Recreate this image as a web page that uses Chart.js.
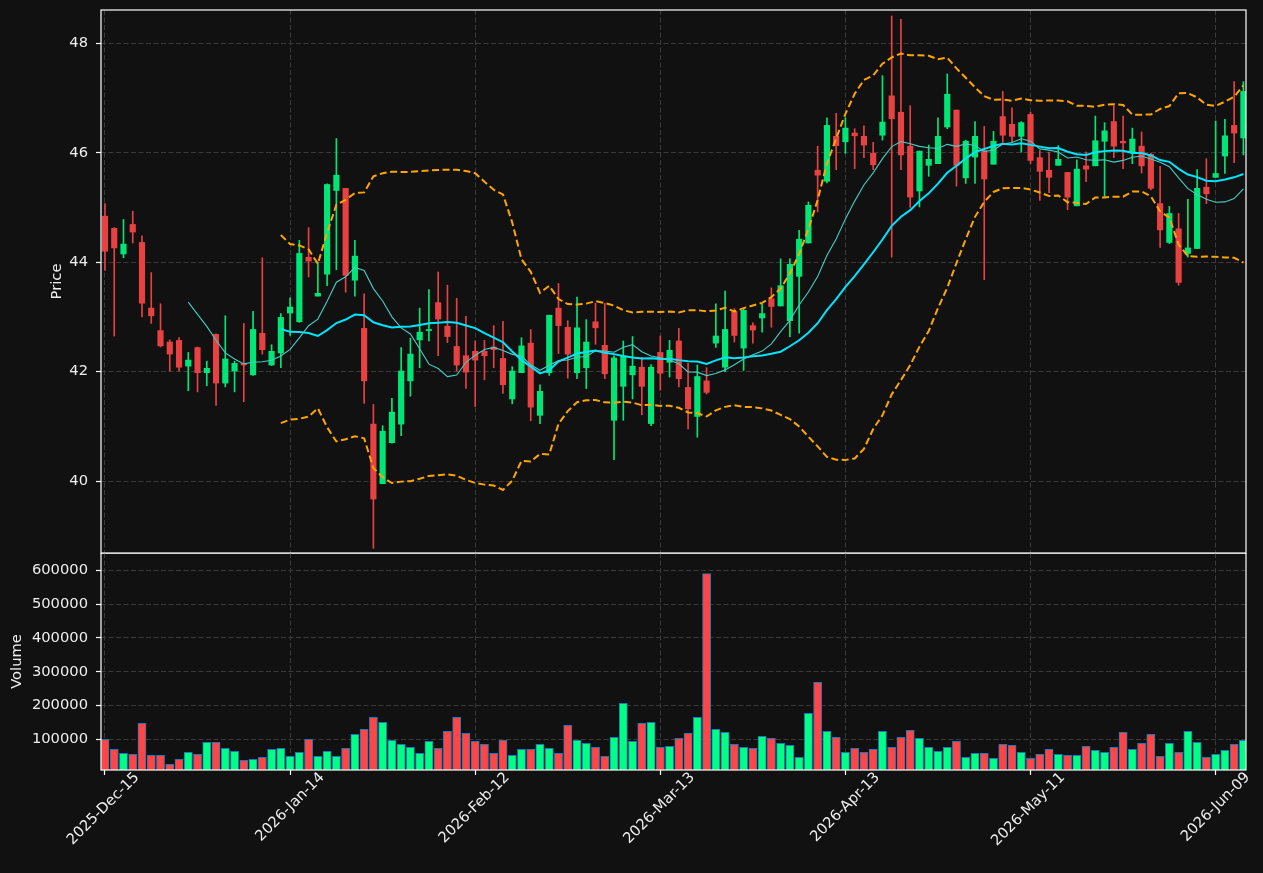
<!DOCTYPE html>
<html><head><meta charset="utf-8">
<script src="https://cdn.jsdelivr.net/npm/chart.js@4.4.1/dist/chart.umd.min.js"></script>
<style>
html,body{margin:0;padding:0;background:#111111;}
body{width:1263px;height:873px;position:relative;overflow:hidden;}
canvas{position:absolute;left:0;}
#price{top:0;}
#vol{top:553px;}
</style></head><body>
<canvas id="price" width="1263" height="554"></canvas>
<canvas id="vol" width="1263" height="320"></canvas>
<script>
// ---------- data ----------
const dates = [
'2025-Dec-15','2025-Dec-16','2025-Dec-17','2025-Dec-18','2025-Dec-19','2025-Dec-22','2025-Dec-23','2025-Dec-24','2025-Dec-26','2025-Dec-29','2025-Dec-30','2025-Dec-31',
'2026-Jan-02','2026-Jan-05','2026-Jan-06','2026-Jan-07','2026-Jan-08','2026-Jan-09','2026-Jan-12','2026-Jan-13','2026-Jan-14','2026-Jan-15','2026-Jan-16','2026-Jan-20','2026-Jan-21','2026-Jan-22','2026-Jan-23','2026-Jan-26','2026-Jan-27','2026-Jan-28','2026-Jan-29','2026-Jan-30',
'2026-Feb-02','2026-Feb-03','2026-Feb-04','2026-Feb-05','2026-Feb-06','2026-Feb-09','2026-Feb-10','2026-Feb-11','2026-Feb-12','2026-Feb-13','2026-Feb-17','2026-Feb-18','2026-Feb-19','2026-Feb-20','2026-Feb-23','2026-Feb-24','2026-Feb-25','2026-Feb-26','2026-Feb-27',
'2026-Mar-02','2026-Mar-03','2026-Mar-04','2026-Mar-05','2026-Mar-06','2026-Mar-09','2026-Mar-10','2026-Mar-11','2026-Mar-12','2026-Mar-13','2026-Mar-16','2026-Mar-17','2026-Mar-18','2026-Mar-19','2026-Mar-20','2026-Mar-23','2026-Mar-24','2026-Mar-25','2026-Mar-26','2026-Mar-27','2026-Mar-30','2026-Mar-31',
'2026-Apr-01','2026-Apr-02','2026-Apr-06','2026-Apr-07','2026-Apr-08','2026-Apr-09','2026-Apr-10','2026-Apr-13','2026-Apr-14','2026-Apr-15','2026-Apr-16','2026-Apr-17','2026-Apr-20','2026-Apr-21','2026-Apr-22','2026-Apr-23','2026-Apr-24','2026-Apr-27','2026-Apr-28','2026-Apr-29','2026-Apr-30',
'2026-May-01','2026-May-04','2026-May-05','2026-May-06','2026-May-07','2026-May-08','2026-May-11','2026-May-12','2026-May-13','2026-May-14','2026-May-15','2026-May-18','2026-May-19','2026-May-20','2026-May-21','2026-May-22','2026-May-26','2026-May-27','2026-May-28','2026-May-29',
'2026-Jun-01','2026-Jun-02','2026-Jun-03','2026-Jun-04','2026-Jun-05','2026-Jun-08','2026-Jun-09','2026-Jun-10','2026-Jun-11','2026-Jun-12'
];
const openP = [44.84,44.62,44.15,44.69,44.36,43.16,42.75,42.54,42.57,42.10,42.44,41.98,42.68,41.79,42.01,42.15,41.94,42.70,42.12,42.34,
43.07,42.91,44.09,43.38,43.78,45.31,45.35,43.67,42.79,41.04,39.95,40.70,41.04,41.83,42.58,42.75,43.26,42.83,42.46,42.29,
42.37,42.37,42.45,42.24,41.50,41.98,42.52,41.20,41.98,43.16,42.81,41.98,42.07,42.91,42.48,41.11,41.73,41.94,42.08,41.05,
42.35,42.17,42.56,41.71,41.18,41.83,42.52,42.08,43.10,42.43,42.84,42.98,43.33,43.20,42.93,43.74,44.35,45.68,45.48,46.30,
46.20,46.36,46.30,45.99,46.32,47.04,46.74,46.12,45.30,45.77,45.80,46.47,46.78,45.54,45.92,46.04,45.79,46.66,46.52,46.30,
46.70,45.91,45.68,45.77,45.64,45.03,45.76,45.76,46.21,46.57,46.21,46.01,46.12,45.97,45.07,44.36,44.61,44.16,44.25,45.37,
45.55,45.94,46.50,46.27];
const highP = [45.07,44.63,44.78,44.93,44.48,43.81,43.24,42.58,42.62,42.35,42.45,42.19,42.69,43.02,42.19,42.88,43.10,44.08,42.49,43.06,
43.35,44.40,44.63,44.00,45.43,46.26,45.35,44.40,43.42,41.40,41.01,41.51,42.44,42.61,43.16,43.50,43.82,43.58,43.34,43.01,
42.56,42.57,42.84,42.92,42.09,42.62,42.77,41.76,43.03,43.61,42.93,43.36,42.95,43.25,43.25,42.29,42.56,42.64,42.26,42.13,
42.65,42.57,42.79,42.15,42.12,42.07,43.24,43.47,43.15,43.15,42.89,43.23,43.53,44.06,44.06,44.58,45.10,46.12,46.64,46.72,
46.64,46.44,46.49,46.19,47.41,48.50,48.44,46.86,46.03,46.14,46.64,47.44,46.78,46.23,46.57,46.48,46.39,47.12,46.82,46.57,
46.74,46.04,46.01,46.13,45.64,45.87,46.01,46.67,46.55,46.86,46.67,46.45,46.38,45.99,45.75,45.02,44.89,45.15,45.69,45.89,
46.58,46.61,47.30,47.30];
const lowP = [43.85,42.65,44.08,44.35,43.00,42.88,42.45,42.01,42.01,41.65,41.63,41.74,41.38,41.72,41.63,41.45,41.93,42.32,42.11,42.07,
42.66,42.90,43.73,43.38,43.57,43.86,43.45,43.38,41.42,38.77,39.95,40.69,40.83,41.55,42.07,42.56,42.29,42.53,42.01,41.69,
41.36,41.85,42.07,41.60,41.41,41.98,41.10,41.05,41.93,42.33,41.88,41.87,41.69,42.50,41.87,40.39,41.11,41.50,41.21,41.01,
41.66,41.90,41.72,40.95,40.80,41.59,42.44,42.00,42.54,42.02,42.52,42.72,42.81,43.20,42.64,42.70,44.35,44.92,45.45,45.69,
45.99,45.71,45.91,45.69,46.23,44.09,45.69,45.00,45.01,45.57,45.80,46.44,45.39,45.44,45.44,43.68,45.79,46.19,46.19,46.01,
45.80,45.13,45.27,45.77,44.96,45.03,45.47,45.76,45.19,45.91,45.71,45.80,45.63,45.32,44.27,44.34,43.58,44.09,44.25,45.07,
45.55,45.62,45.82,45.96];
const closeP = [44.20,44.26,44.33,44.55,43.25,43.02,42.47,42.32,42.08,42.21,41.98,42.06,41.79,42.23,42.15,42.12,42.77,42.40,42.37,42.99,
43.18,44.16,44.02,43.43,45.42,45.59,43.76,44.11,41.83,39.67,40.91,41.26,42.01,42.32,42.72,42.77,42.96,42.64,42.12,41.99,
42.21,42.29,42.40,41.76,42.01,42.47,41.35,41.64,43.03,42.84,42.32,42.80,42.54,42.80,41.96,42.25,42.28,42.10,41.73,42.08,
41.97,42.39,41.87,41.32,41.91,41.62,42.65,42.77,42.66,43.12,42.76,43.06,43.19,43.57,43.96,44.42,45.04,45.59,46.50,46.13,
46.45,46.31,46.14,45.78,46.56,46.62,45.96,45.19,46.03,45.88,46.30,47.07,45.77,46.21,46.30,45.52,46.21,46.32,46.30,46.55,
45.86,45.66,45.55,45.88,45.19,45.70,45.70,46.22,46.40,46.12,46.18,46.25,45.76,45.35,44.59,44.89,43.63,44.26,45.35,45.25,
45.62,46.31,46.36,47.12];
const volume = [100000,70500,58600,55700,147300,52700,52700,26100,40900,61600,55700,91100,91100,73400,64500,37900,40900,46800,70500,73400,
49800,61600,100000,49800,64500,49800,73400,114800,129600,165000,150200,97000,85200,76400,58600,94100,73400,123600,165000,117700,
94100,85200,58600,97000,52700,70500,70500,85200,73400,58600,141400,97000,88200,76400,49800,105900,206400,94100,147300,150200,
76400,79300,103000,117700,165000,590500,129600,120700,85200,76400,73400,108900,103000,88200,82300,46800,176800,268400,123600,105900,
61600,73400,61600,70500,123600,76400,105900,126600,103000,76400,64500,76400,94100,46800,58600,58600,43900,85200,82300,61600,
43900,55700,70500,55700,52700,52700,79300,67500,61600,76400,120700,70500,88200,114800,49800,88200,61600,123600,91100,46800,
55700,67500,85200,97000];
const tickIndex = [0,20,40,60,80,100,120];
const priceTicks = [40,42,44,46,48];
const volumeTicks = [100000,200000,300000,400000,500000,600000];

// ---------- styling ----------
const TXT = '#eeeeee', GRID = '#3a3a3a';
const UP_C = '#00e676', DN_C = '#e84142';
const UP_V = '#00ff85', DN_V = '#ff4545';
const FONT = {family: 'DejaVu Sans', size: 14.7};
const X_MIN = -0.43, X_MAX = 123.28;

Chart.defaults.font.family = FONT.family;
Chart.defaults.font.size = FONT.size;
Chart.defaults.color = TXT;

// indicators derived from the close series
function rollMean(src, n) {
  return src.map((_, i) => {
    if (i < n - 1) return null;
    let s = 0; for (let k = i - n + 1; k <= i; k++) s += src[k];
    return s / n;
  });
}
function rollStd(src, n) {
  const m = rollMean(src, n);
  return src.map((_, i) => {
    if (m[i] === null) return null;
    let s = 0; for (let k = i - n + 1; k <= i; k++) s += (src[k] - m[i]) ** 2;
    return Math.sqrt(s / n);
  });
}
const ma10 = rollMean(closeP, 10);
const ma20 = rollMean(closeP, 20);
const sd20 = rollStd(closeP, 20);
const bbUp = ma20.map((v, i) => v === null ? null : v + 2 * sd20[i]);
const bbLo = ma20.map((v, i) => v === null ? null : v - 2 * sd20[i]);

const idx = closeP.map((_, i) => i);
const isUp = idx.map(i => closeP[i] >= openP[i]);

const frame = {
  id: 'frame',
  afterDraw(c) {
    const {ctx, chartArea: a} = c;
    ctx.save();
    ctx.strokeStyle = '#ffffff';
    ctx.lineWidth = 1.2;
    ctx.setLineDash([]);
    ctx.strokeRect(a.left, a.top, a.right - a.left, a.bottom - a.top);
    ctx.restore();
  }
};

function xScale(showLabels) {
  return {
    type: 'linear', min: X_MIN, max: X_MAX, offset: false,
    afterBuildTicks: s => { s.ticks = tickIndex.map(v => ({value: v})); },
    afterFit: s => { s.height = showLabels ? 103 : 0; s.paddingLeft = 0; s.paddingRight = 0; s.paddingTop = 0; s.paddingBottom = 0; },
    grid: {color: GRID, lineWidth: 1, offset: false, drawTicks: showLabels, tickLength: 5,
           tickColor: '#ffffff', tickWidth: 1.2, tickBorderDash: [100, 0]},
    border: {display: false, dash: [5, 2.5]},
    ticks: {display: showLabels, autoSkip: false, maxRotation: 45, minRotation: 45,
            labelOffset: 32, padding: -6, color: TXT, font: FONT,
            callback: v => dates[v]}
  };
}
function yScale(min, max, ticksArr, width, title) {
  return {
    type: 'linear', position: 'left', min: min, max: max,
    afterBuildTicks: s => { s.ticks = ticksArr.map(v => ({value: v})); },
    afterFit: s => { s.width = width; s.paddingTop = 0; s.paddingBottom = 0; },
    grid: {color: GRID, lineWidth: 1, drawTicks: true, tickLength: 5,
           tickColor: '#ffffff', tickWidth: 1.2, tickBorderDash: [100, 0]},
    border: {display: false, dash: [5, 2.5]},
    ticks: {padding: 8, color: TXT, font: FONT, callback: v => String(v)},
    title: {display: true, text: title, color: TXT, font: FONT, padding: 0}
  };
}

new Chart(document.getElementById('price'), {
  type: 'bar',
  data: {
    datasets: [
      {type: 'line', label: 'MA10', data: idx.map(i => ({x: i, y: ma10[i]})),
       borderColor: '#45cdc6', borderWidth: 1.1, pointRadius: 0, tension: 0, order: 0},
      {type: 'line', label: 'MA20', data: idx.map(i => ({x: i, y: ma20[i]})),
       borderColor: '#00e5ff', borderWidth: 2, pointRadius: 0, tension: 0, order: 0},
      {type: 'line', label: 'BB upper', data: idx.map(i => ({x: i, y: bbUp[i]})),
       borderColor: '#ffa500', borderWidth: 2, borderDash: [7, 3.5], pointRadius: 0, tension: 0, order: 0},
      {type: 'line', label: 'BB lower', data: idx.map(i => ({x: i, y: bbLo[i]})),
       borderColor: '#ffa500', borderWidth: 2, borderDash: [7, 3.5], pointRadius: 0, tension: 0, order: 0},
      {type: 'bar', label: 'body', data: idx.map(i => ({x: i, y: [openP[i], closeP[i]]})),
       backgroundColor: idx.map(i => isUp[i] ? UP_C : DN_C), borderWidth: 0,
       barThickness: 5.5, minBarLength: 1, grouped: false, order: 1},
      {type: 'bar', label: 'wick', data: idx.map(i => ({x: i, y: [lowP[i], highP[i]]})),
       backgroundColor: idx.map(i => isUp[i] ? UP_C : DN_C), borderWidth: 0,
       barThickness: 1, grouped: false, order: 2}
    ]
  },
  options: {
    responsive: false, animation: false, events: [],
    layout: {padding: {left: 48, top: 10, right: 17, bottom: 1}},
    plugins: {legend: {display: false}, tooltip: {enabled: false}},
    scales: {
      x: xScale(false),
      y: yScale(38.684, 48.609, priceTicks, 53, 'Price')
    }
  },
  plugins: [frame]
});

new Chart(document.getElementById('vol'), {
  type: 'bar',
  data: {
    datasets: [
      {type: 'bar', label: 'Volume', data: idx.map(i => ({x: i, y: volume[i]})),
       backgroundColor: idx.map(i => isUp[i] ? UP_V : DN_V),
       borderColor: '#1f77b4', borderWidth: 1, borderSkipped: false,
       barThickness: 8.2, grouped: false}
    ]
  },
  options: {
    responsive: false, animation: false, events: [],
    layout: {padding: {left: 8, top: 0, right: 17, bottom: 0}},
    plugins: {legend: {display: false}, tooltip: {enabled: false}},
    scales: {
      x: xScale(true),
      y: yScale(9260, 651300, volumeTicks, 93, 'Volume')
    }
  },
  plugins: [frame]
});
</script>
</body></html>
